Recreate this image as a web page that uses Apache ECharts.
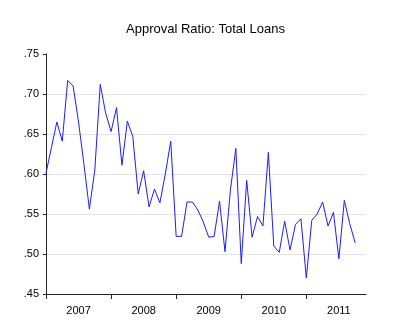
<!DOCTYPE html>
<html>
<head>
<meta charset="utf-8">
<script src="https://cdn.jsdelivr.net/npm/echarts@6/dist/echarts.min.js"></script>
<style>
  html, body { margin: 0; padding: 0; background: #ffffff; }
  #chart { width: 400px; height: 336px; }
</style>
</head>
<body>
<div id="chart"></div>
<script>
// Monthly approval ratio for total loans, Jan 2007 - Oct 2011 (axis runs through Dec 2011)
const years = [2007, 2008, 2009, 2010, 2011];

const ratio2007 = [0.601, 0.633, 0.665, 0.641, 0.717, 0.710, 0.665, 0.612, 0.556, 0.605, 0.712, 0.676];
const ratio2008 = [0.653, 0.683, 0.611, 0.666, 0.647, 0.575, 0.604, 0.559, 0.581, 0.564, 0.600, 0.641];
const ratio2009 = [0.522, 0.522, 0.565, 0.565, 0.555, 0.540, 0.521, 0.522, 0.566, 0.503, 0.580, 0.632];
const ratio2010 = [0.488, 0.592, 0.521, 0.547, 0.535, 0.627, 0.510, 0.502, 0.541, 0.505, 0.537, 0.544];
const ratio2011 = [0.470, 0.542, 0.550, 0.565, 0.535, 0.552, 0.494, 0.567, 0.538, 0.514, '-', '-'];

const yTicks = { min: 0.45, max: 0.75, step: 0.05 };

const months = [];
years.forEach(y => {
  for (let m = 1; m <= 12; m++) months.push(y + '-' + String(m).padStart(2, '0'));
});
const values = [].concat(ratio2007, ratio2008, ratio2009, ratio2010, ratio2011);

const chart = echarts.init(document.getElementById('chart'), null, { renderer: 'canvas' });

const font = 'Liberation Sans, Arial, sans-serif';

chart.setOption({
  animation: false,
  backgroundColor: '#ffffff',
  title: {
    text: 'Approval Ratio: Total Loans',
    left: 126,
    top: 23,
    padding: 0,
    textStyle: { fontFamily: font, fontSize: 13, fontWeight: 'normal', color: '#000000' }
  },
  grid: { left: 46, top: 54, width: 320, height: 240 },
  xAxis: {
    type: 'category',
    data: months,
    boundaryGap: false,
    axisLine: { lineStyle: { color: '#222222', width: 1 } },
    axisTick: {
      inside: false,
      length: 5,
      interval: (idx) => idx % 12 === 0,
      lineStyle: { color: '#222222' }
    },
    axisLabel: {
      interval: (idx) => idx % 12 === 6,
      formatter: (v) => v.slice(0, 4),
      margin: 11,
      fontFamily: font,
      fontSize: 11,
      color: '#000000'
    },
    splitLine: { show: false }
  },
  yAxis: {
    type: 'value',
    min: yTicks.min,
    max: yTicks.max,
    interval: yTicks.step,
    axisLine: { show: true, lineStyle: { color: '#222222', width: 1 } },
    axisTick: { show: true, length: 3, lineStyle: { color: '#222222' } },
    axisLabel: {
      formatter: (v) => v.toFixed(2).replace(/^0/, ''),
      margin: 7,
      fontFamily: font,
      fontSize: 11,
      color: '#000000'
    },
    splitLine: {
      show: true,
      showMinLine: false,
      showMaxLine: false,
      lineStyle: { color: '#e4e4e4', width: 1 }
    }
  },
  series: [{
    type: 'line',
    data: values,
    showSymbol: false,
    connectNulls: false,
    lineStyle: { color: '#1c1cff', width: 1 },
    itemStyle: { color: '#1c1cff' }
  }]
});
</script>
</body>
</html>
